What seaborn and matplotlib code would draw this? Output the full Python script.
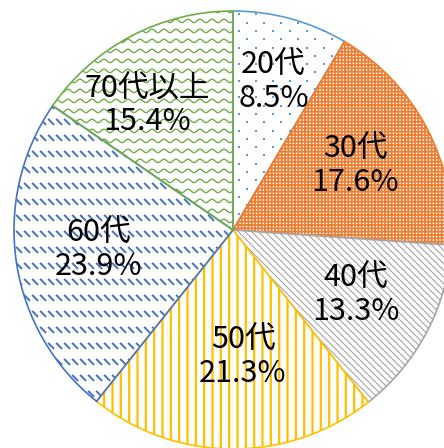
import numpy as np
import matplotlib
matplotlib.use("Agg")
import matplotlib.pyplot as plt
import seaborn as sns
from matplotlib.collections import LineCollection

# data
ages = ["20代", "30代", "40代", "50代", "60代", "70代以上"]
shares = [8.5, 17.6, 13.3, 21.3, 23.9, 15.4]
pct_labels = ["8.5%", "17.6%", "13.3%", "21.3%", "23.9%", "15.4%"]

# styling
colors = ["#5B9BD5", "#ED7D31", "#A5A5A5", "#FFC000", "#4472C4", "#70AD47"]
hatches = [None, "+++++", "\\\\\\\\\\", "||", None, None]
hatch_lw = [1.0, 1.2, 0.8, 1.6, 1.0, 1.0]
label_dist = [0.70, 0.63, 0.635, 0.58, 0.62, 0.69]
label_turn = [0, 0, 0, 4.7, 0, 6.8]

sns.set_theme(style="white")
plt.rcParams["font.family"] = ["Noto Sans CJK JP", "DejaVu Sans"]
plt.rcParams["hatch.linewidth"] = 1.0

R_PX = 219.0  # pie radius in pixels
px = 1 / R_PX

fig = plt.figure(figsize=(4.44, 4.48), dpi=100)
ax = fig.add_axes([0, 0, 1, 1])

# white background under textures
ax.pie(shares, colors=["white"] * len(shares), startangle=90,
       counterclock=False, radius=1, wedgeprops=dict(linewidth=0, zorder=0))

wedges, _ = ax.pie(shares, colors=["white"] * len(shares), startangle=90,
                   counterclock=False, radius=1,
                   wedgeprops=dict(linewidth=1.2))

for w, c, h, lw in zip(wedges, colors, hatches, hatch_lw):
    w.set_edgecolor(c)
    if h:
        w.set_hatch(h)
        if hasattr(w, "set_hatch_linewidth"):
            w.set_hatch_linewidth(lw)

# 20s: sparse staggered dots
dot_pts = []
for i, y0 in enumerate(np.arange(-1.1, 1.1, 8.3 * px)):
    shift = 8.5 * px if i % 2 else 0
    for x0 in np.arange(-1.1, 1.1, 17 * px):
        dot_pts.append((x0 + shift, y0))
dot_pts = np.array(dot_pts)
dots = ax.scatter(dot_pts[:, 0], dot_pts[:, 1], s=4, marker="s",
                  color=colors[0], linewidths=0, zorder=1.5)
dots.set_clip_path(wedges[0])

# 60s: short dashed downward diagonals
xs = np.arange(-1.1, 1.1, 8 * px)
ys = np.arange(-1.1, 1.1, 16 * px)
gx, gy = np.meshgrid(xs, ys)
p0 = np.stack([gx.ravel(), gy.ravel()], axis=1)
p1 = p0 + np.array([6 * px, -6 * px])
dash = LineCollection(np.stack([p0, p1], axis=1), colors=colors[4],
                      linewidths=1.4, zorder=1.5)
ax.add_collection(dash)
dash.set_clip_path(wedges[4])

# 70+: wavy lines
wx = np.linspace(-1.1, 1.1, 800)
rows = []
for y0 in np.arange(-1.1, 1.1, 10 * px):
    wy = y0 + 1.7 * px * np.sin(2 * np.pi * wx / (12 * px))
    rows.append(np.column_stack([wx, wy]))
wave = LineCollection(rows, colors=colors[5], linewidths=1.0, zorder=1.5)
ax.add_collection(wave)
wave.set_clip_path(wedges[5])

# outlines on top of textures
for w, h in zip(wedges, hatches):
    w.set_zorder(2)
    if h is None:
        w.set_facecolor("none")

for w, age, pct, d, t in zip(wedges, ages, pct_labels, label_dist, label_turn):
    ang = np.deg2rad((w.theta1 + w.theta2) / 2 + t)
    ax.text(d * np.cos(ang), d * np.sin(ang), f"{age}\n{pct}",
            ha="center", va="center", fontsize=22, linespacing=1.08,
            color="black", zorder=3)

ax.set_xlim(-233 * px, 211 * px)
ax.set_ylim(-218 * px, 230 * px)
ax.set_aspect("auto")
ax.axis("off")

fig.savefig("out.png", dpi=100)
